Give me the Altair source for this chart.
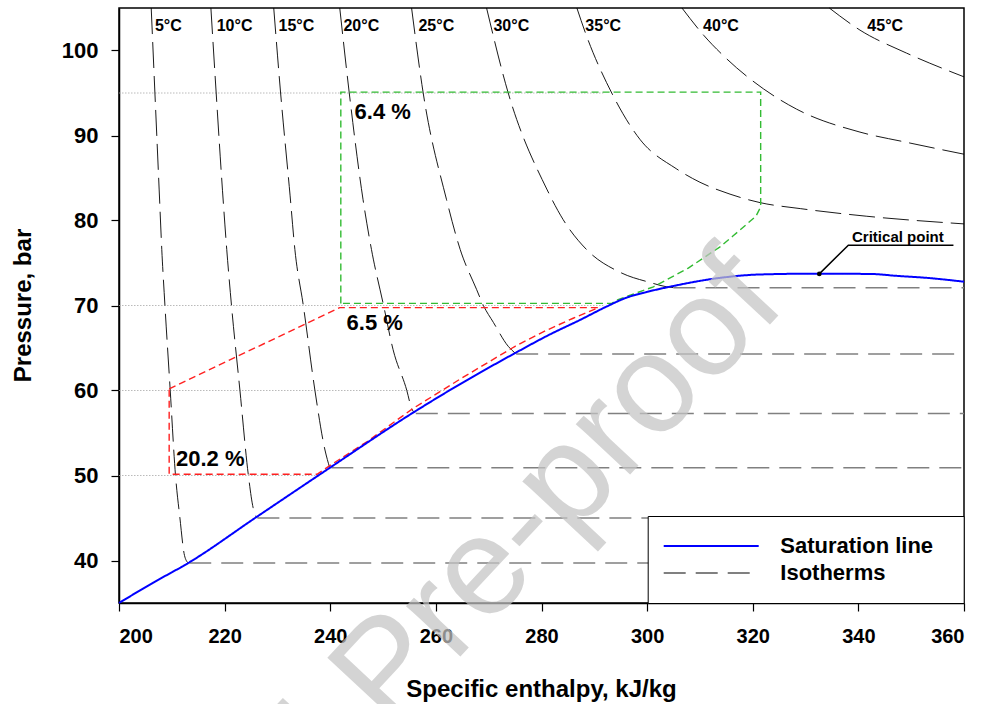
import altair as alt
import pandas as pd

# ---------------- data ----------------
SERIES = ["Saturation line", "Isotherms"]

sat_h = [200.0, 206.5, 213.1, 226.0, 239.9, 255.7, 262.0, 275.0, 281.6, 287.3, 292.4, 296.0, 300.0,
         305.0, 313.8, 321.4, 332.5, 342.8, 347.0, 353.0, 360.0]
sat_p = [35.0, 37.4, 39.7, 45.1, 50.9, 57.4, 59.8, 64.4, 66.6, 68.3, 69.9, 70.9, 71.6,
         72.3, 73.25, 73.65, 73.75, 73.7, 73.5, 73.25, 72.8]

# isotherms in the liquid / supercritical region (h, p)
iso_5_h = [206.1, 206.8, 207.6, 208.1, 208.7, 209.7, 210.7, 211.5, 212.4, 213.1]
iso_5_p = [105.0, 95.0, 83.7, 76.6, 70.0, 60.0, 50.0, 45.2, 40.6, 39.7]
iso_10_h = [217.4, 218.4, 219.6, 220.4, 221.3, 222.9, 224.5, 225.4, 226.0]
iso_10_p = [105.0, 95.0, 83.5, 76.6, 70.0, 60.0, 50.0, 46.2, 45.1]
iso_15_h = [229.3, 230.6, 232.4, 233.3, 234.9, 237.1, 239.0, 239.9]
iso_15_p = [105.0, 95.0, 82.9, 76.6, 70.0, 60.0, 53.0, 50.9]
iso_20_h = [241.8, 243.6, 246.2, 247.8, 250.1, 251.9, 254.5, 255.4, 255.9]
iso_20_p = [105.0, 95.0, 82.5, 76.6, 70.0, 64.8, 60.0, 57.9, 57.4]
iso_25_h = [255.4, 257.6, 262.0, 264.6, 267.7, 269.0, 270.9, 273.7, 275.0]
iso_25_p = [105.0, 95.0, 82.5, 76.6, 71.9, 70.0, 68.0, 65.2, 64.4]
iso_30_h = [269.6, 273.7, 281.0, 284.1, 288.5, 294.9, 300.6, 303.7, 305.0]
iso_30_p = [105.0, 95.0, 83.7, 80.1, 76.6, 73.9, 72.7, 72.2, 72.1]
iso_35_h = [286.7, 288.3, 293.3, 298.7, 305.5, 310.0, 315.7, 321.4, 329.0, 341.6, 360.0]
iso_35_p = [105.0, 102.1, 95.0, 89.5, 86.1, 84.5, 83.1, 82.1, 81.4, 80.5, 79.6]
iso_40_h = [306.6, 310.7, 315.1, 322.0, 328.3, 340.3, 349.1, 360.0]
iso_40_p = [105.0, 101.8, 99.0, 95.5, 93.1, 90.4, 89.2, 87.8]
iso_45_h = [334.5, 340.3, 349.1, 360.0]
iso_45_p = [105.0, 102.4, 99.7, 96.9]

# two-phase (horizontal) isotherms
two_phase_T = [5, 10, 15, 20, 25, 30]
two_phase_p = [39.7, 45.0, 50.9, 57.3, 64.3, 72.1]
two_phase_h_start = [213.3, 226.2, 240.2, 256.2, 275.2, 305.0]
two_phase_h_end = [360.0] * 6

# isotherm labels at the top
label_T = ["5°C", "10°C", "15°C", "20°C", "25°C", "30°C", "35°C", "40°C", "45°C"]
label_h = [206.8, 218.5, 230.2, 242.5, 256.7, 270.9, 288.3, 310.6, 341.7]
label_p = [102.85] * 9

# dotted reference pressure levels
ref_p = [95.0, 70.0, 60.0, 50.0]
ref_h_start = [200.0, 200.0, 200.0, 200.0]
ref_h_end = [291.7, 291.7, 262.0, 237.5]

# green region
green_h = [242.0, 242.0, 321.5, 321.5, 320.6, 316.3, 313.8, 307.8, 301.2, 294.5, 293.3, 242.0]
green_p = [70.25, 95.1, 95.1, 81.6, 80.5, 78.2, 76.9, 74.4, 72.2, 70.7, 70.25, 70.25]

# red region
red_h = [209.5, 241.8, 290.8, 286.0, 281.0, 275.0, 265.0, 255.7, 247.0, 240.0, 237.5, 209.5, 209.5]
red_p = [60.2, 69.75, 69.75, 68.5, 67.1, 65.2, 61.5, 57.9, 54.0, 51.2, 50.15, 50.15, 60.2]

# percentage labels
pct_text = ["6.4 %", "6.5 %", "20.2 %"]
pct_h = [244.6, 243.1, 210.8]
pct_p = [92.8, 68.0, 52.0]

# critical point
crit_h = [332.6]
crit_p = [73.72]
crit_leader_h = [332.6, 338.1, 358.0]
crit_leader_p = [73.72, 77.1, 77.1]
crit_text = ["Critical point"]
crit_text_h = [338.8]
crit_text_p = [77.5]

WATERMARK = ["Journal Pre-proof"]

FONT = "Liberation Sans"

# ---------------- tables ----------------
sat_df = pd.DataFrame({"h": sat_h, "p": sat_p, "series": SERIES[0], "o": range(len(sat_h))})

iso_rows = []
for T, hs, ps in [(5, iso_5_h, iso_5_p), (10, iso_10_h, iso_10_p), (15, iso_15_h, iso_15_p),
                  (20, iso_20_h, iso_20_p), (25, iso_25_h, iso_25_p), (30, iso_30_h, iso_30_p),
                  (35, iso_35_h, iso_35_p), (40, iso_40_h, iso_40_p), (45, iso_45_h, iso_45_p)]:
    for i, (h, p) in enumerate(zip(hs, ps)):
        iso_rows.append({"T": T, "h": h, "p": p, "o": i})
iso_df = pd.DataFrame(iso_rows)

tp_rows = []
for T, p, h0, h1 in zip(two_phase_T, two_phase_p, two_phase_h_start, two_phase_h_end):
    tp_rows.append({"T": T, "h": h0, "p": p, "series": SERIES[1], "o": 0})
    tp_rows.append({"T": T, "h": h1, "p": p, "series": SERIES[1], "o": 1})
tp_df = pd.DataFrame(tp_rows)

ref_rows = []
for i, (p, h0, h1) in enumerate(zip(ref_p, ref_h_start, ref_h_end)):
    ref_rows.append({"k": i, "h": h0, "p": p, "o": 0})
    ref_rows.append({"k": i, "h": h1, "p": p, "o": 1})
ref_df = pd.DataFrame(ref_rows)

green_df = pd.DataFrame({"h": green_h, "p": green_p, "o": range(len(green_h))})
red_df = pd.DataFrame({"h": red_h, "p": red_p, "o": range(len(red_h))})
lab_df = pd.DataFrame({"h": label_h, "p": label_p, "t": label_T})
pct_df = pd.DataFrame({"h": pct_h, "p": pct_p, "t": pct_text})
crit_df = pd.DataFrame({"h": crit_h, "p": crit_p})
lead_df = pd.DataFrame({"h": crit_leader_h, "p": crit_leader_p, "o": range(3)})
ctext_df = pd.DataFrame({"h": crit_text_h, "p": crit_text_p, "t": crit_text})
wm_df = pd.DataFrame({"t": WATERMARK})

# ---------------- encodings ----------------
X = alt.X("h:Q",
          scale=alt.Scale(domain=[200, 360], nice=False, zero=False),
          axis=alt.Axis(values=list(range(200, 361, 20)), title="Specific enthalpy, kJ/kg",
                        labelFontSize=20, labelPadding=15, titleX=422, titleY=93,
                        titleBaseline="alphabetic", titleAlign="center"))
Y = alt.Y("p:Q",
          scale=alt.Scale(domain=[35, 105], nice=False, zero=False),
          axis=alt.Axis(values=list(range(40, 101, 10)), title="Pressure, bar",
                        labelFontSize=22, labelPadding=13, titleX=-96, titleY=297,
                        titleAngle=270, titleBaseline="middle", titleAlign="center"))

# legend symbol: a horizontal stroke; the trailing move-to only widens the legend frame
legend = alt.Legend(orient="none", legendX=528.7, legendY=508, padding=19,
                    fillColor="white", strokeColor="black",
                    symbolType="M-1.4,0H8.1M26.3,0", symbolSize=400, symbolStrokeWidth=2,
                    labelOffset=91.6, labelFontSize=22, labelFont=FONT, labelFontWeight="bold",
                    labelColor="black", rowPadding=5, labelLimit=400)
COLOR = alt.Color("series:N", title=None,
                  scale=alt.Scale(domain=SERIES, range=["#0000ff", "#808080"]), legend=legend)
DASH = alt.StrokeDash("series:N", title=None,
                      scale=alt.Scale(domain=SERIES, range=[[1, 0], [22, 10]]), legend=legend)

wm = alt.Chart(wm_df).mark_text(
    font=FONT, fontSize=140, color="#c4c4c4", opacity=0.72, angle=313,
    align="right", baseline="alphabetic"
).encode(x=alt.value(788 - 119), y=alt.value(305 - 8), text="t:N")

ref = alt.Chart(ref_df).mark_line(color="#a8a8a8", strokeWidth=0.8, strokeDash=[1.5, 1.5]).encode(
    x=X, y=Y, detail="k:N", order="o:Q")

iso = alt.Chart(iso_df).mark_line(color="black", strokeWidth=0.9, strokeDash=[26, 8], interpolate="monotone").encode(
    x=X, y=Y, detail="T:N", order="o:Q")

tp = alt.Chart(tp_df).mark_line(strokeWidth=1.5).encode(
    x=X, y=Y, detail="T:N", order="o:Q", color=COLOR, strokeDash=DASH)

green = alt.Chart(green_df).mark_line(color="#33bb33", strokeWidth=1.4, strokeDash=[7, 4]).encode(
    x=X, y=Y, order="o:Q")
red = alt.Chart(red_df).mark_line(color="#ff2020", strokeWidth=1.4, strokeDash=[7, 4]).encode(
    x=X, y=Y, order="o:Q")

sat = alt.Chart(sat_df).mark_line(strokeWidth=2, interpolate="monotone").encode(
    x=X, y=Y, order="o:Q", color=COLOR, strokeDash=DASH)

labels = alt.Chart(lab_df).mark_text(font=FONT, fontSize=16, fontWeight="bold", align="left",
                                     baseline="middle", color="black").encode(x=X, y=Y, text="t:N")
pct = alt.Chart(pct_df).mark_text(font=FONT, fontSize=22, fontWeight="bold", align="left",
                                  baseline="middle", color="black").encode(x=X, y=Y, text="t:N")
lead = alt.Chart(lead_df).mark_line(color="black", strokeWidth=1.5).encode(x=X, y=Y, order="o:Q")
cdot = alt.Chart(crit_df).mark_point(filled=True, color="black", size=22, opacity=1).encode(x=X, y=Y)
ctext = alt.Chart(ctext_df).mark_text(font=FONT, fontSize=15, fontWeight="bold", align="left",
                                      baseline="alphabetic", color="black").encode(x=X, y=Y, text="t:N")

chart = alt.layer(ref, iso, tp, green, red, sat, lead, cdot, labels, pct, ctext, wm).properties(
    width=845, height=595,
    autosize=alt.AutoSizeParams(type="none"),
    padding={"left": 119, "top": 8, "right": 22, "bottom": 101},
    background="white",
).configure_view(
    stroke="black", strokeWidth=1.5
).configure_axis(
    labelFont=FONT, labelFontWeight="bold", labelColor="black",
    titleFont=FONT, titleFontWeight="bold", titleFontSize=24, titleColor="black",
    domainColor="black", domainWidth=1.5, tickColor="black", tickSize=8, tickWidth=1.2,
    grid=False
)

chart.save("out.html", embed_options={"renderer": "svg", "actions": False})
